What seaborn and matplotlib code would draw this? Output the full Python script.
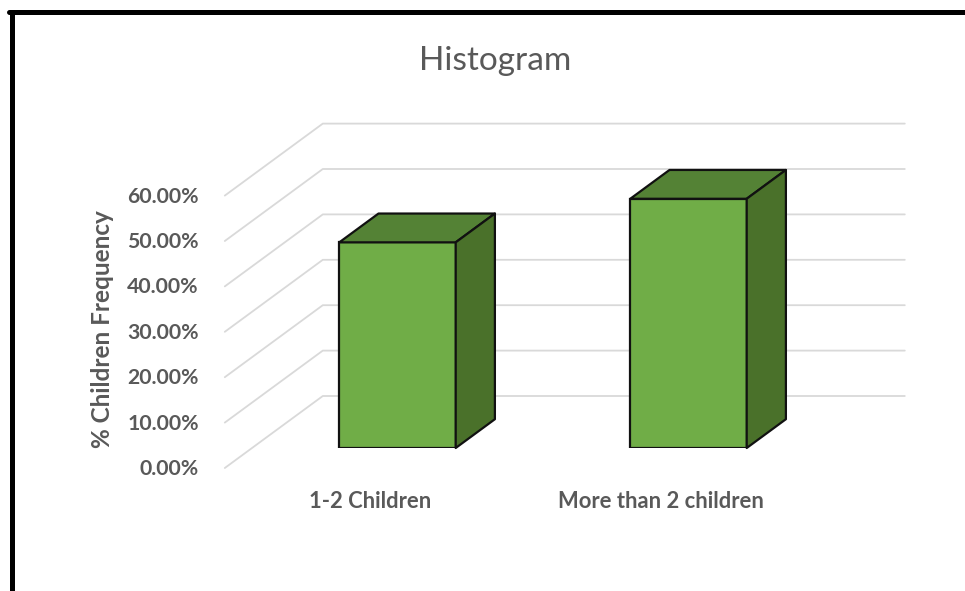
import matplotlib
matplotlib.use("Agg")
import matplotlib.pyplot as plt
from matplotlib.patches import Polygon
from matplotlib.lines import Line2D
import numpy as np
import pandas as pd
import seaborn as sns

# ---- data -------------------------------------------------------------
categories = ["1-2 Children", "More than 2 children"]
frequency = [0.453, 0.549]
y_ticks = [0.0, 0.1, 0.2, 0.3, 0.4, 0.5, 0.6]
y_tick_labels = ["0.00%", "10.00%", "20.00%", "30.00%", "40.00%", "50.00%", "60.00%"]
title = "Histogram"
y_title = "% Children Frequency"

# ---- style ------------------------------------------------------------
sns.set_theme(style="white")
plt.rcParams["font.family"] = ["Lato", "DejaVu Sans"]

TEXT = "#595959"
GRID = "#D9D9D9"
FRONT = "#70AD47"
TOP = "#548235"
SIDE = "#4A712A"

W, H, DPI = 965, 591, 100
fig = plt.figure(figsize=(W / DPI, H / DPI), dpi=DPI)
fig.patch.set_facecolor("white")

# axes = plane of the bars' front faces (pixel placement)
ax_l, ax_r, ax_b, ax_t = 200, 900, 143, 415.4
ax = fig.add_axes([ax_l / W, ax_b / H, (ax_r - ax_l) / W, (ax_t - ax_b) / H])

df = pd.DataFrame({"category": categories, "frequency": frequency})
sns.barplot(data=df, x="category", y="frequency", color=FRONT, saturation=1,
            width=0.4, edgecolor="#111111", linewidth=1.6, ax=ax, zorder=3)

ax.set_xlim(-0.6787, 1.7268)
ax.set_ylim(0, 0.6)
ax.axis("off")

# oblique depth offsets in pixels (display coords, y up)
FRONT_OFF = (-27.2, -20.0)   # front edge of the floor
BACK_OFF = (70.8, 52.0)      # back wall
BAR_DEPTH = (39.2, 28.8)     # depth of each column

to_disp = ax.transData.transform
to_data = ax.transData.inverted().transform


def shift(x, y, off):
    px = to_disp((x, y)) + np.asarray(off)
    return tuple(to_data(px))


x_wall_l, x_wall_r = -0.5, 1.5

# floor/side-wall diagonals and back-wall gridlines
for v in y_ticks:
    p_front = shift(x_wall_l, v, FRONT_OFF)
    p_back_l = shift(x_wall_l, v, BACK_OFF)
    p_back_r = shift(x_wall_r, v, BACK_OFF)
    ax.add_line(Line2D([p_front[0], p_back_l[0], p_back_r[0]],
                       [p_front[1], p_back_l[1], p_back_r[1]],
                       color=GRID, lw=1.3, zorder=0, clip_on=False))

# top and side faces of each column
for patch in ax.patches[:len(categories)]:
    x0 = patch.get_x()
    x1 = x0 + patch.get_width()
    y1 = patch.get_height()
    top = [(x0, y1), (x1, y1), shift(x1, y1, BAR_DEPTH), shift(x0, y1, BAR_DEPTH)]
    side = [(x1, 0), (x1, y1), shift(x1, y1, BAR_DEPTH), shift(x1, 0, BAR_DEPTH)]
    ax.add_patch(Polygon(top, closed=True, facecolor=TOP, edgecolor="#111111",
                         lw=1.6, joinstyle="round", zorder=3, clip_on=False))
    ax.add_patch(Polygon(side, closed=True, facecolor=SIDE, edgecolor="#111111",
                         lw=1.6, joinstyle="round", zorder=3, clip_on=False))

# value axis labels on the front edge
for v, lab in zip(y_ticks, y_tick_labels):
    x, y = shift(x_wall_l, v, (FRONT_OFF[0] - 26, FRONT_OFF[1] - 1))
    ax.text(x, y, lab, ha="right", va="center", fontsize=15.3,
            fontweight="bold", color=TEXT, clip_on=False)

# category labels along the front edge of the floor
for i, cat in enumerate(categories):
    x, y = shift(i, 0, (FRONT_OFF[0], -54))
    ax.text(x, y, cat, ha="center", va="center", fontsize=15.8,
            fontweight="bold", color=TEXT, clip_on=False)

fig.text(103 / W, (H - 329) / H, y_title, rotation=90, ha="center", va="center",
         fontsize=17.5, fontweight="bold", color=TEXT)
fig.text(495 / W, (H - 61) / H, title, ha="center", va="center",
         fontsize=24, color=TEXT)

# chart frame (left and top edges)
fig.add_artist(Line2D([11.5 / W, 11.5 / W], [0, (H - 11.5) / H],
                      transform=fig.transFigure, color="black", lw=3.6))
fig.add_artist(Line2D([9 / W, 1], [(H - 11.5) / H, (H - 11.5) / H],
                      transform=fig.transFigure, color="black", lw=3.6))

fig.savefig("out.png", dpi=DPI, facecolor="white")
